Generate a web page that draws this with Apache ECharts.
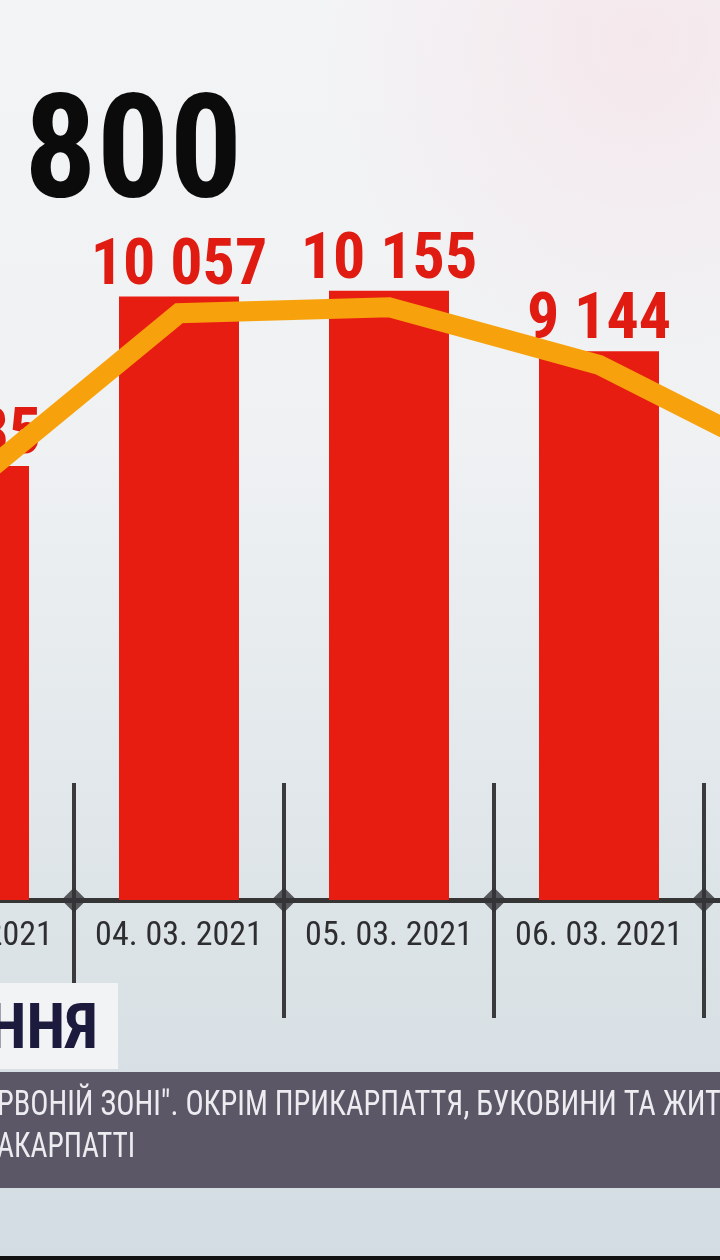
<!DOCTYPE html>
<html><head><meta charset="utf-8">
<script src="https://cdn.jsdelivr.net/npm/echarts@6/dist/echarts.min.js"></script>
<style>html,body{margin:0;padding:0;background:#eef0f2;}#c{width:720px;height:1260px;}</style>
</head><body><div id="c"></div>
<script>
// ---- data ----
const categories = ['03. 03. 2021', '04. 03. 2021', '05. 03. 2021', '06. 03. 2021', '07. 03. 2021'];
const boundaries = ['b0', 'b1', 'b2', 'b3', 'b4', 'b5'];
const casesBar = [7235, 10057, 10155, 9144, 7800];
const casesLine = [6900, 9780, 9880, 8920, 7150];
const diamondPoints = [['b1', 0], ['b2', 0], ['b3', 0], ['b4', 0]];
const headline = '800';
const headerWord = 'ННЯ';
const tickerLines = ['РВОНІЙ ЗОНІ". ОКРІМ ПРИКАРПАТТЯ, БУКОВИНИ ТА ЖИТ', 'АКАРПАТТІ'];

const NARROW = "'Liberation Sans Narrow', 'Roboto Condensed', 'DejaVu Sans Condensed', sans-serif";
const fmt = v => String(v).replace(/\B(?=(\d{3})+(?!\d))/g, ' ');

const chart = echarts.init(document.getElementById('c'), null, {renderer: 'canvas'});
const option = {
  animation: false,
  backgroundColor: 'transparent',
  grid: {left: -136, width: 1050, top: 180, height: 720, containLabel: false, outerBoundsMode: 'none'},
  xAxis: [
    {
      type: 'category', data: categories, position: 'bottom', boundaryGap: true,
      axisLine: {show: true, lineStyle: {color: '#353535', width: 5}},
      axisTick: {show: true, inside: false, length: 118, lineStyle: {color: '#3a3a3c', width: 4}},
      axisLabel: {show: true, margin: 19, color: '#2e2e30', fontSize: 34, fontFamily: NARROW, interval: 0},
      splitLine: {show: false}
    },
    {
      type: 'category', data: boundaries, position: 'bottom', boundaryGap: false, offset: 0,
      axisLine: {show: false},
      axisTick: {show: true, inside: true, length: 117, interval: 0, lineStyle: {color: '#3a3a3c', width: 4}},
      axisLabel: {show: false},
      splitLine: {show: false}
    }
  ],
  yAxis: [{
    type: 'value', min: 0, max: 12000, show: false, splitLine: {show: false}
  }],
  series: [
    {
      type: 'bar', xAxisIndex: 0, yAxisIndex: 0, data: casesBar, barWidth: 120,
      itemStyle: {color: '#e81d12'},
      z: 2,
      label: {
        show: true, position: 'top', distance: -3,
        formatter: p => fmt(p.value),
        color: '#e01c12', fontSize: 64, fontWeight: 'bold', fontFamily: NARROW
      }
    },
    {
      type: 'line', xAxisIndex: 0, yAxisIndex: 0, data: casesLine, symbol: 'none',
      smooth: false, z: 3,
      lineStyle: {color: '#f7a20d', width: 20, join: 'miter', cap: 'butt'}
    },
    {
      type: 'scatter', xAxisIndex: 1, yAxisIndex: 0, data: diamondPoints,
      symbol: 'diamond', symbolSize: [25, 25], z: 4,
      itemStyle: {color: '#353537'}
    }
  ],
  graphic: [
    {
      type: 'rect', z: -10, silent: true,
      shape: {x: 0, y: 0, width: 720, height: 1260},
      style: {fill: new echarts.graphic.LinearGradient(0, 0, 0, 1, [
        {offset: 0, color: '#f3f4f6'},
        {offset: 0.35, color: '#eff1f3'},
        {offset: 0.55, color: '#e5eaed'},
        {offset: 0.78, color: '#dae2e6'},
        {offset: 1, color: '#d3dce2'}
      ])}
    },
    {
      type: 'circle', z: -9, silent: true,
      shape: {cx: 640, cy: 40, r: 320},
      style: {fill: new echarts.graphic.RadialGradient(0.5, 0.5, 0.5, [
        {offset: 0, color: 'rgba(246,222,228,0.55)'},
        {offset: 1, color: 'rgba(246,222,228,0)'}
      ])}
    },
    {
      type: 'text', z: 5, x: 24, y: 161,
      style: {text: headline, fill: '#0b0b0b', fontSize: 144, fontWeight: 'bold', fontFamily: NARROW,
        textAlign: 'left', textVerticalAlign: 'middle'}
    },
    {
      type: 'rect', z: 10, silent: true,
      shape: {x: 0, y: 983, width: 118, height: 86},
      style: {fill: '#f2f3f5'}
    },
    {
      type: 'text', z: 11, x: 98, y: 1032,
      style: {text: headerWord, fill: '#1d1b3d', fontSize: 63, fontWeight: 'bold', fontFamily: NARROW,
        textAlign: 'right', textVerticalAlign: 'middle'}
    },
    {
      type: 'rect', z: 10, silent: true,
      shape: {x: 0, y: 1072, width: 720, height: 116},
      style: {fill: '#5b5766'}
    },
    {
      type: 'text', z: 11, x: -3, y: 1106, scaleX: 0.865,
      style: {text: tickerLines[0], fill: '#ececf1', fontSize: 35, fontFamily: NARROW,
        textAlign: 'left', textVerticalAlign: 'middle'}
    },
    {
      type: 'text', z: 11, x: -3, y: 1148, scaleX: 0.84,
      style: {text: tickerLines[1], fill: '#ececf1', fontSize: 35, fontFamily: NARROW,
        textAlign: 'left', textVerticalAlign: 'middle'}
    },
    {
      type: 'rect', z: 10, silent: true,
      shape: {x: 0, y: 1256, width: 720, height: 4},
      style: {fill: '#121212'}
    }
  ]
};
chart.setOption(option);
</script>
</body></html>
